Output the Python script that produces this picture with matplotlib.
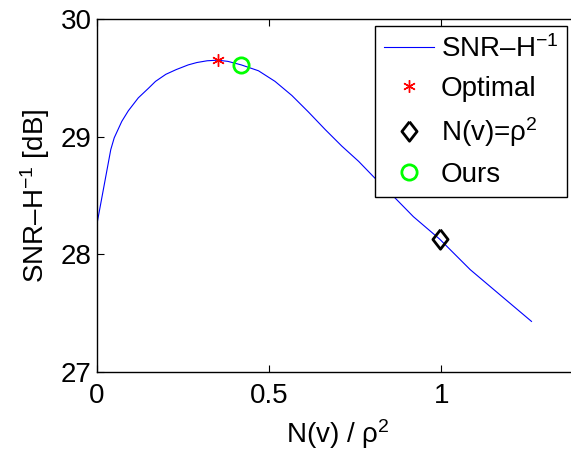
import matplotlib
matplotlib.use("Agg")
import matplotlib.pyplot as plt

plt.rcParams['font.family'] = ['Liberation Sans', 'DejaVu Sans']
plt.rcParams['mathtext.fontset'] = 'custom'
plt.rcParams['mathtext.rm'] = 'Liberation Sans'
plt.rcParams['mathtext.it'] = 'Liberation Sans'
plt.rcParams['mathtext.bf'] = 'Liberation Sans'

# SNR-H^-1 curve vs noise ratio
ratio = [0, 0.040, 0.050, 0.072, 0.091, 0.120, 0.149, 0.170, 0.200, 0.230,
         0.265, 0.290, 0.320, 0.351, 0.380, 0.419, 0.469, 0.517, 0.566,
         0.614, 0.663, 0.711, 0.760, 0.803, 0.852, 0.919, 0.995, 1.084,
         1.181, 1.262]
snr = [28.26, 28.89, 28.99, 29.13, 29.22, 29.33, 29.41, 29.47, 29.53, 29.57,
       29.61, 29.63, 29.645, 29.65, 29.64, 29.61, 29.56, 29.47, 29.35,
       29.21, 29.06, 28.92, 28.79, 28.66, 28.52, 28.32, 28.13, 27.87,
       27.63, 27.43]

opt_x, opt_y = 0.351, 29.65
rho_x, rho_y = 0.995, 28.13
ours_x, ours_y = 0.419, 29.61

xticks = [0, 0.5, 1]
yticks = [27, 28, 29, 30]

fig = plt.figure(figsize=(5.71, 4.57), dpi=100)
ax = fig.add_axes([97 / 571, 85 / 457, 482 / 571, 353 / 457])

ax.plot(ratio, snr, color=(0, 0, 1), linewidth=0.8, label='SNR–H$^{-1}$')
ax.plot(opt_x, opt_y, linestyle='none', marker=(6, 2, 0), color='red',
        markersize=9, markeredgewidth=1.0, label='Optimal')
diamond = [(0, 1), (0.78, 0), (0, -1), (-0.78, 0), (0, 1)]
ax.plot(rho_x, rho_y, linestyle='none', marker=diamond, markerfacecolor='none',
        markeredgecolor='black', markeredgewidth=2.0, markersize=14,
        label='N(v)=ρ$^2$')
ax.plot(ours_x, ours_y, linestyle='none', marker='o', markerfacecolor='none',
        markeredgecolor=(0, 1, 0), markeredgewidth=2.0, markersize=11,
        label='Ours')

ax.set_xlim(0, 1.4)
ax.set_ylim(27, 30)
ax.set_xticks(xticks)
ax.set_xticklabels(['0', '0.5', '1'])
ax.set_yticks(yticks)
ax.tick_params(direction='in', length=5, width=0.8, labelsize=20,
               top=True, right=True)
ax.tick_params(axis='x', pad=8)
ax.tick_params(axis='y', pad=4)
for s in ax.spines.values():
    s.set_linewidth(1.0)

ax.set_xlabel('N(v) / ρ$^2$', fontsize=20, labelpad=6)
ax.set_ylabel('SNR–H$^{-1}$ [dB]', fontsize=20, labelpad=6)

leg = ax.legend(loc='upper right', bbox_to_anchor=(567 / 571, 1 - 26 / 457),
                bbox_transform=fig.transFigure, borderaxespad=0,
                fontsize=20, frameon=True, fancybox=False, framealpha=1,
                edgecolor='black', handlelength=1.8, handletextpad=0.25,
                labelspacing=0.47, borderpad=0.32)
leg.get_frame().set_linewidth(1.0)

fig.savefig('out.png', dpi=100)
